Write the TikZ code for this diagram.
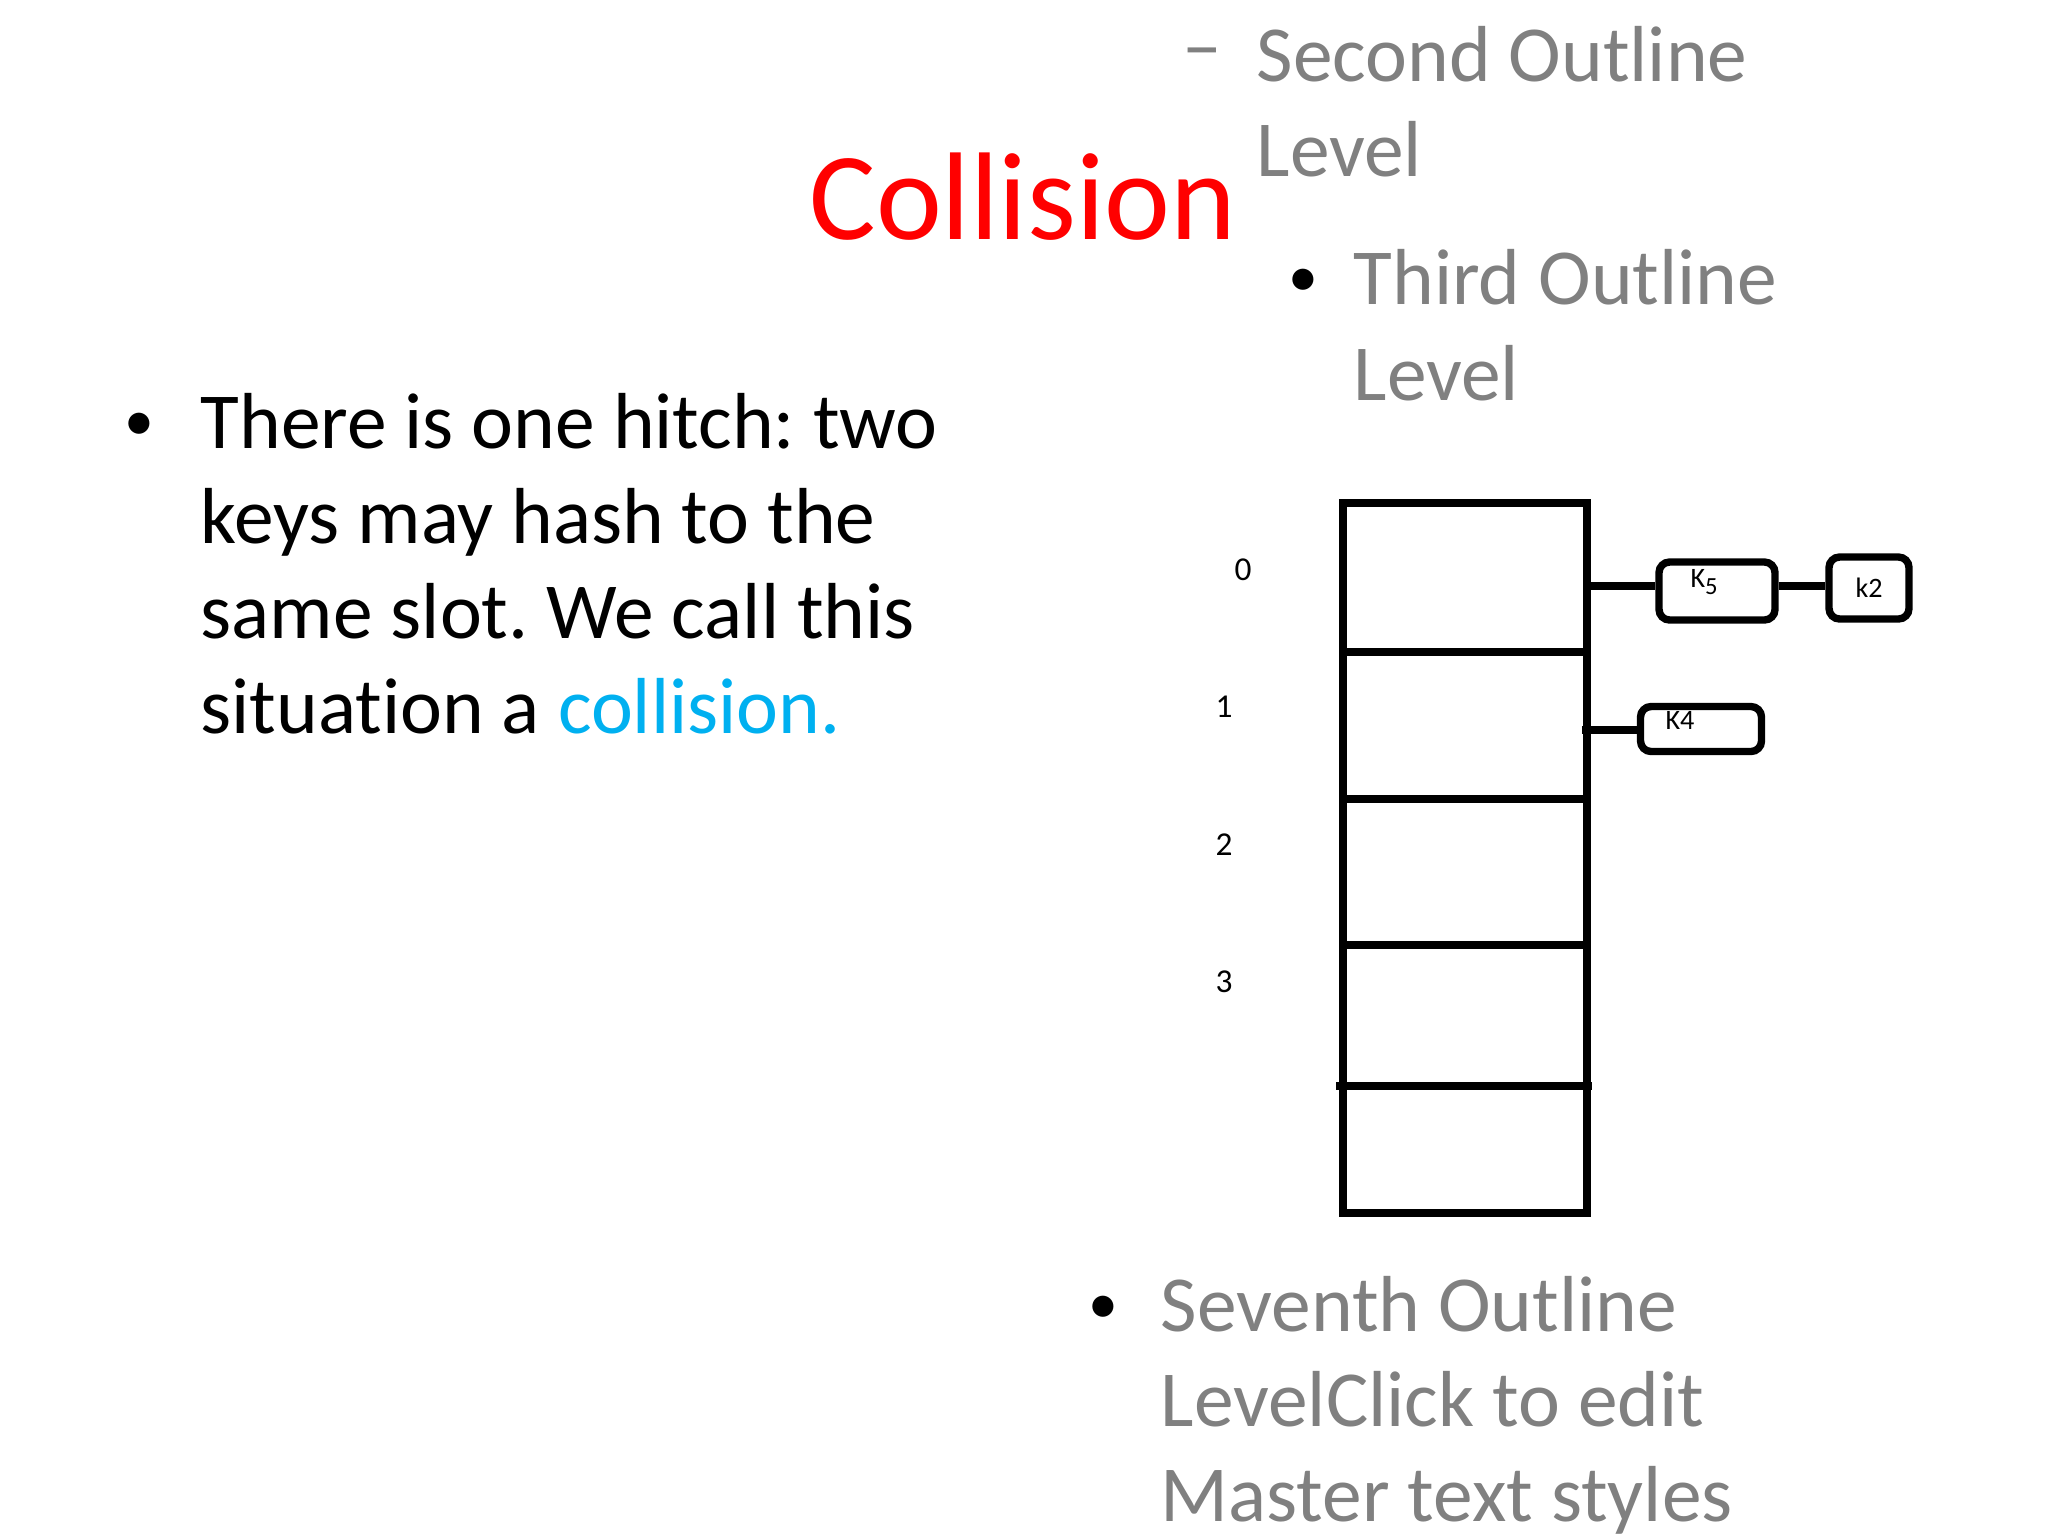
\documentclass[tikz,border=0pt]{standalone}
\usepackage{fontspec}
\setmainfont{Carlito}[Ligatures=NoCommon]
\frenchspacing
\begin{document}
\begin{tikzpicture}[x=0.1mm,y=-0.1mm,
  body/.style={anchor=base west,inner sep=0,font=\fontsize{22.6}{24}\selectfont},
  bul/.style={anchor=base west,inner sep=0,font=\fontsize{17}{18}\selectfont},
  gray/.style={body,text=outgray},
  thick7/.style={line width=2.1pt},
  keybox/.style={draw,line width=2.1pt,rounded corners=3pt,inner sep=0,font=\fontsize{8}{9}\selectfont},
  idx/.style={inner sep=0,font=\fontsize{9.5}{10}\selectfont}]
\definecolor{outgray}{RGB}{128,128,128}
\definecolor{hl}{RGB}{0,176,240}
\useasboundingbox (0,0) rectangle (2048,1536);
\node[anchor=base,inner sep=0,text=red,font=\fontsize{35.5}{36}\selectfont] (title) at (1023,239) {Collision};
% left bullet
\node[bul] (b1) at (124,440) {•};
\node[body] (l1) at (200,448) {There is one hitch: two};
\node[body] (l2) at (200,543) {keys may hash to the};
\node[body] (l3) at (200,638) {same slot. We call this};
\node[body] (l4) at (200,733) {situation a \textcolor{hl}{collision.}};
% gray outline text
\node[gray] (d2) at (1182,72) {–};
\node[gray] (s1) at (1256,81) {Second Outline};
\node[gray] (s2) at (1256,176) {Level};
\node[bul,text=black] (d3) at (1288,296) {•};
\node[gray] (t1) at (1353,304) {Third Outline};
\node[gray] (t2) at (1353,400) {Level};
\node[bul,text=black] (d7) at (1088,1323) {•};
\node[gray] (v1) at (1160,1331) {Seventh Outline};
\node[gray] (v2) at (1160,1426) {LevelClick to edit};
\node[gray] (v3) at (1160,1521) {Master text styles};
% table
\draw[thick7] (1343,503) rectangle (1587,1213);
\draw[thick7] (1343,652) -- (1591,652);
\draw[thick7] (1343,799) -- (1591,799);
\draw[thick7] (1343,945) -- (1591,945);
\draw[thick7] (1336,1086) -- (1592,1086);
\node[idx] (i0) at (1243,570) {0};
\node[idx] (i1) at (1224,707) {1};
\node[idx] (i2) at (1224,845) {2};
\node[idx] (i3) at (1224,982) {3};
\coordinate (s0) at (1587,586);
\coordinate (s1c) at (1582,730);
\node[keybox,minimum width=116pt*0.2845,minimum height=58pt*0.2845] (k5) at (1717,591) {};
\node[font=\fontsize{8}{9}\selectfont,inner sep=0] (k5t) at (1705,582) {K$_{\mbox{\fontsize{7}{7}\selectfont 5}}$};
\node[keybox,minimum width=80pt*0.2845,minimum height=62pt*0.2845] (k2) at (1869,588) {k2};
\node[keybox,minimum width=121pt*0.2845,minimum height=45pt*0.2845] (k4) at (1701,729) {};
\node[font=\fontsize{8}{9}\selectfont,inner sep=0] (k4t) at (1680,720) {K4};
\draw[thick7] (s0) -- (k5.west|-s0);
\draw[thick7] (k5.east|-s0) -- (k2.west|-s0);
\draw[thick7] (s1c) -- (k4.west|-s1c);
\end{tikzpicture}
\end{document}
